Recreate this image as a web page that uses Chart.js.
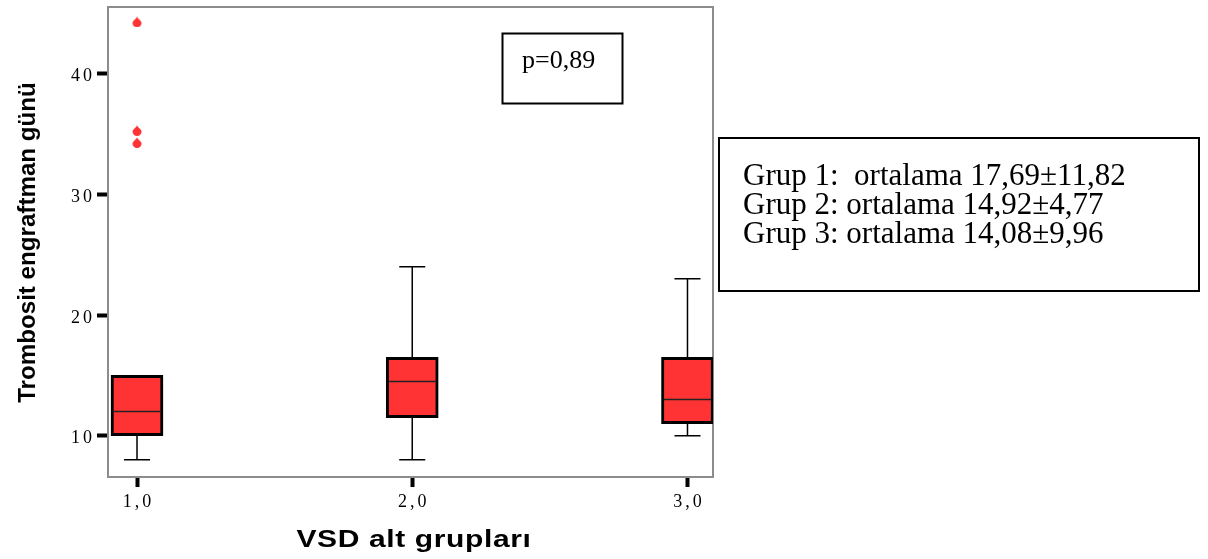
<!DOCTYPE html>
<html lang="tr">
<head>
<meta charset="utf-8">
<title>Trombosit engraftman günü</title>
<script src="https://cdn.jsdelivr.net/npm/chart.js@4.4.1/dist/chart.umd.min.js"></script>
<style>
  html, body { margin: 0; padding: 0; background: #fff; }
  #wrap { position: relative; width: 1208px; height: 559px; }
</style>
</head>
<body>
<div id="wrap"><canvas id="boxChart"></canvas></div>
<script>
// box plot summary per VSD subgroup (days)
const groups = [1, 2, 3];
const groupLabels = ['1,0', '2,0', '3,0'];
const whiskerLow = [8, 8, 10];
const q1 = [10, 11.5, 11];
const median = [12, 14.5, 13];
const q3 = [15, 16.5, 16.5];
const whiskerHigh = [15, 24, 23];
const outlierX = [1, 1, 1];
const outlierY = [44.3, 35.3, 34.3];
const yTicks = [10, 20, 30, 40];

const pText = 'p=0,89';
const statLines = [
  'Grup 1:  ortalama 17,69±11,82',
  'Grup 2: ortalama 14,92±4,77',
  'Grup 3: ortalama 14,08±9,96'
];
const xTitle = 'VSD alt grupları';
const yTitle = 'Trombosit engraftman günü';

const RED = '#ff3333';
const BOX_W = 52;
const SERIF = '"Liberation Serif", "Times New Roman", serif';
const SANS = '"Liberation Sans", Arial, sans-serif';

// small drop shaped marker for the outliers
function dropMarker() {
  const c = document.createElement('canvas');
  c.width = 10; c.height = 11;
  const g = c.getContext('2d');
  g.fillStyle = RED;
  g.beginPath();
  g.moveTo(5, 0.3);
  g.bezierCurveTo(6, 3, 9.5, 4.5, 9.5, 6.5);
  g.arc(5, 6.5, 4.5, 0, Math.PI);
  g.bezierCurveTo(0.5, 4.5, 4, 3, 5, 0.3);
  g.fill();
  return c;
}

const boxParts = {
  id: 'boxParts',
  beforeDraw(chart) {
    // spaced-out tick labels
    chart.ctx.letterSpacing = '3px';
  },
  beforeDatasetsDraw(chart) {
    const { ctx, chartArea: a, scales: { x, y } } = chart;
    ctx.save();
    ctx.letterSpacing = '0px';
    // plot frame
    ctx.strokeStyle = '#8c8c8c';
    ctx.lineWidth = 2;
    ctx.strokeRect(a.left, a.top, a.right - a.left, a.bottom - a.top);
    // whiskers
    ctx.strokeStyle = '#000';
    ctx.lineWidth = 1.5;
    const cap = BOX_W / 4;
    groups.forEach((g, i) => {
      const cx = x.getPixelForValue(g);
      [[whiskerLow[i], q1[i]], [whiskerHigh[i], q3[i]]].forEach(([end, edge]) => {
        if (end === edge) return;
        const ye = y.getPixelForValue(end);
        ctx.beginPath();
        ctx.moveTo(cx, y.getPixelForValue(edge));
        ctx.lineTo(cx, ye);
        ctx.moveTo(cx - cap, ye);
        ctx.lineTo(cx + cap, ye);
        ctx.stroke();
      });
    });
    ctx.restore();
  },
  afterDatasetsDraw(chart) {
    const { ctx, scales: { x, y } } = chart;
    ctx.save();
    ctx.strokeStyle = '#222';
    ctx.lineWidth = 1.5;
    groups.forEach((g, i) => {
      const cx = x.getPixelForValue(g);
      const ym = y.getPixelForValue(median[i]);
      ctx.beginPath();
      ctx.moveTo(cx - BOX_W / 2 + 2, ym);
      ctx.lineTo(cx + BOX_W / 2 - 2, ym);
      ctx.stroke();
    });
    ctx.restore();
  },
  afterDraw(chart) {
    const ctx = chart.ctx;
    ctx.letterSpacing = '0px';
    ctx.save();
    ctx.fillStyle = '#000';

    // axis titles (wide bold sans)
    ctx.textAlign = 'center';
    ctx.textBaseline = 'alphabetic';
    ctx.save();
    ctx.font = 'bold 24px ' + SANS;
    ctx.translate(414, 547);
    ctx.scale(1.25, 1);
    ctx.letterSpacing = '0.5px';
    ctx.fillText(xTitle, 0, 0);
    ctx.restore();

    ctx.save();
    ctx.font = 'bold 23px ' + SANS;
    ctx.translate(34.5, 242.5);
    ctx.rotate(-Math.PI / 2);
    ctx.scale(1.05, 1);
    ctx.fillText(yTitle, 0, 0);
    ctx.restore();

    // p value box
    ctx.strokeStyle = '#000';
    ctx.lineWidth = 2;
    ctx.strokeRect(502.5, 33.5, 120, 70);
    ctx.textAlign = 'left';
    ctx.font = '26px ' + SERIF;
    ctx.fillText(pText, 522, 68);

    // group means box
    ctx.strokeRect(719, 138, 480, 153);
    ctx.font = '31px ' + SERIF;
    statLines.forEach((t, i) => ctx.fillText(t, 743, 185 + i * 29.2));
    ctx.restore();
  }
};

new Chart(document.getElementById('boxChart'), {
  type: 'bar',
  data: {
    datasets: [{
      type: 'bar',
      data: groups.map((g, i) => ({ x: g, y: [q1[i], q3[i]] })),
      backgroundColor: RED,
      borderColor: '#000',
      borderWidth: 3,
      borderSkipped: false,
      barThickness: BOX_W
    }, {
      type: 'scatter',
      data: outlierX.map((v, i) => ({ x: v, y: outlierY[i] })),
      pointStyle: dropMarker()
    }]
  },
  options: {
    responsive: true,
    maintainAspectRatio: false,
    animation: false,
    layout: { padding: { top: 7, right: 495, left: 0, bottom: 0 } },
    plugins: { legend: { display: false }, tooltip: { enabled: false } },
    scales: {
      x: {
        type: 'linear',
        min: 0.8946,
        max: 3.0927,
        offset: false,
        afterBuildTicks: s => { s.ticks = groups.map(v => ({ value: v })); },
        afterFit: s => { s.height = 82; s.paddingLeft = 0; s.paddingRight = 0; },
        grid: { drawOnChartArea: false, offset: false, tickLength: 10, tickWidth: 4, tickColor: '#000' },
        border: { display: false },
        ticks: {
          callback: (v, i) => groupLabels[i],
          font: { family: SERIF, size: 18 },
          color: '#000',
          padding: 4,
          labelOffset: 1.5,
          maxRotation: 0,
          autoSkip: false
        }
      },
      y: {
        min: 6.58,
        max: 45.53,
        afterBuildTicks: s => { s.ticks = yTicks.map(v => ({ value: v })); },
        afterFit: s => { s.width = 108; s.paddingTop = 0; s.paddingBottom = 0; },
        grid: { drawOnChartArea: false, tickLength: 11, tickWidth: 4, tickColor: '#000' },
        border: { display: false },
        ticks: {
          font: { family: SERIF, size: 18 },
          color: '#000',
          padding: 2,
          labelOffset: 3
        }
      }
    }
  },
  plugins: [boxParts]
});
</script>
</body>
</html>
